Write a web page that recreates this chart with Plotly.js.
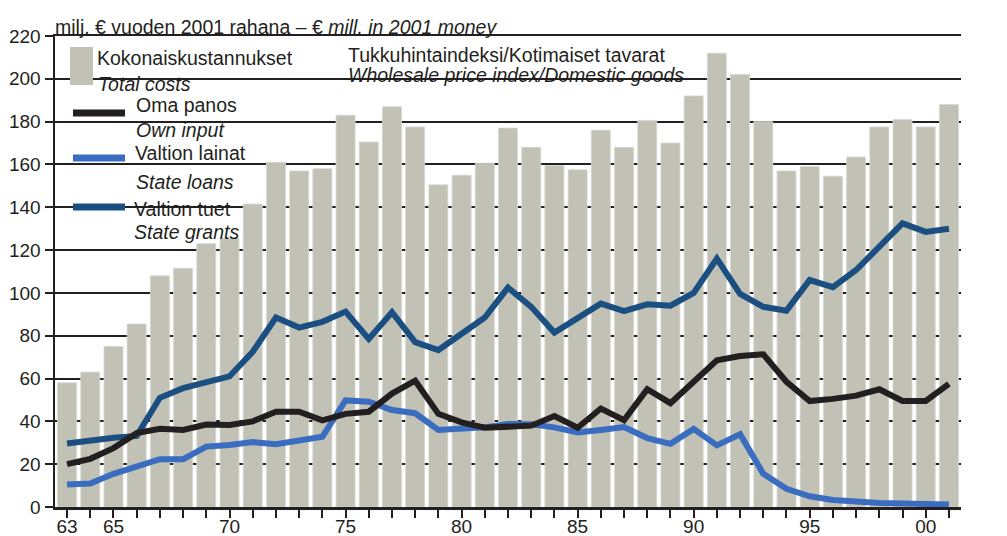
<!DOCTYPE html>
<html>
<head>
<meta charset="utf-8">
<script src="https://cdn.plot.ly/plotly-3.0.1.min.js"></script>
<style>html,body{margin:0;padding:0;background:#fff;}#chart{width:1007px;height:536px;}</style>
</head>
<body>
<div id="chart"></div>
<script>
// ---- data ----
const years = [1963,1964,1965,1966,1967,1968,1969,1970,1971,1972,1973,1974,1975,1976,1977,1978,1979,1980,1981,1982,1983,1984,1985,1986,1987,1988,1989,1990,1991,1992,1993,1994,1995,1996,1997,1998,1999,2000,2001];
const totalCosts = [58,63,75,85.5,108,111.5,123,125.5,141.5,161,157,158,183,170.5,187,177.5,150.5,155,160.5,177,168,159.5,157.5,176,168,180.5,170,192,212,202,180,157,159,154.5,163.5,177.5,181,177.5,188];
const ownInput = [20,22.5,27.5,34.5,36.5,36,38.5,38.3,40,44.5,44.5,40.5,43.5,44.5,53,59,43.5,39.5,37,37.5,38,42.5,37,46,40.5,55,48.5,58.5,68.5,70.5,71.3,58.5,49.5,50.5,52,55,49.5,49.5,57.5];
const stateLoans = [10.5,11,15.5,18.8,22.3,22.3,28.2,29,30.3,29.3,31,32.8,49.8,49.2,45.3,43.8,36,36.3,37.2,38.8,38.6,37.2,34.8,36,37.3,32.2,29.5,36.5,28.8,34,15.5,8.5,5,3.3,2.4,1.9,1.6,1.4,1.2];
const stateGrants = [29.7,31.2,32.3,33.2,51,55.5,58,61,72.5,88.5,83.8,86.5,91.3,78.5,91,77,73.3,81,88.5,102.5,93.5,81.5,88,95,91.5,94.7,94,100,116,99.5,93.5,91.7,106,102.7,110.7,122,132.5,128.5,130];
const labelYears = [1963,1965,1970,1975,1980,1985,1990,1995,2000];
const labelTexts = ['63','65','70','75','80','85','90','95','00'];
const yTicks = [0,20,40,60,80,100,120,140,160,180,200,220];

// ---- style ----
const FONT = '"Liberation Sans", Arial, sans-serif';
const INK = '#231f20';
const BAR = '#c1c1b5';
const LIGHT = '#3a6cbf';
const DARK = '#1b4f82';
const TXT = 19.5, TICK = 19;
const W = 1007, H = 536, L = 55, R = 961, T = 36, B = 507;
const px = v => (v - L) / (R - L);
const py = v => (B - v) / (B - T);

const ticktext = years.map(y => { const i = labelYears.indexOf(y); return i >= 0 ? labelTexts[i] : ''; });

const traces = [
  {type:'bar', x:years, y:totalCosts, width:0.82, marker:{color:BAR, line:{color:'#d8d8d0', width:0.8}}, hoverinfo:'skip', showlegend:false},
  {type:'scatter', mode:'lines', x:years, y:stateLoans, line:{color:LIGHT, width:6}, hoverinfo:'skip', showlegend:false},
  {type:'scatter', mode:'lines', x:years, y:stateGrants, line:{color:DARK, width:6}, hoverinfo:'skip', showlegend:false},
  {type:'scatter', mode:'lines', x:years, y:ownInput, line:{color:INK, width:6}, hoverinfo:'skip', showlegend:false}
];

function ann(text, x, baseline) {
  return {text:text, xref:'paper', yref:'paper', x:px(x), y:py(baseline - 6.5), xanchor:'left', yanchor:'middle', showarrow:false, font:{family:FONT, size:TXT, color:INK}, borderpad:0};
}

const annotations = [
  ann('Kokonaiskustannukset', 96, 64),
  ann('<i>Total costs</i>', 97, 90),
  ann('Oma panos', 135, 112),
  ann('<i>Own input</i>', 135, 136),
  ann('Valtion lainat', 134, 160),
  ann('<i>State loans</i>', 135, 188),
  ann('Valtion tuet', 133, 215),
  ann('<i>State grants</i>', 133, 238),
  ann('Tukkuhintaindeksi/Kotimaiset tavarat', 347, 61),
  ann('<i>Wholesale price index/Domestic goods</i>', 347, 81)
];

const shapes = [
  // white areas behind legend/text (above gridlines, below data)
  {type:'rect', layer:'between', xref:'paper', yref:'y', x0:0.002, x1:px(262), y0:150, y1:219, fillcolor:'#fff', line:{width:0}},
  {type:'rect', layer:'between', xref:'paper', yref:'y', x0:0.002, x1:px(697), y0:190, y1:219, fillcolor:'#fff', line:{width:0}},
  // legend samples
  {type:'rect', xref:'paper', yref:'paper', x0:px(70), x1:px(93), y0:py(85), y1:py(47), fillcolor:BAR, line:{width:0}},
  {type:'line', xref:'paper', yref:'paper', x0:px(73), x1:px(125), y0:py(113), y1:py(113), line:{color:INK, width:7}},
  {type:'line', xref:'paper', yref:'paper', x0:px(73), x1:px(125), y0:py(158), y1:py(158), line:{color:LIGHT, width:7}},
  {type:'line', xref:'paper', yref:'paper', x0:px(73), x1:px(125), y0:py(207), y1:py(207), line:{color:DARK, width:7}}
];

const yCommon = {range:[0,220], tickvals:yTicks, ticks:'outside', ticklen:8, tickwidth:2, tickcolor:INK,
  showline:true, linecolor:INK, linewidth:2.5, zeroline:false, fixedrange:true,
  tickfont:{family:FONT, size:TICK, color:INK}};

const layout = {
  width:W, height:H,
  margin:{l:L, r:W-R, t:T, b:H-B, pad:0},
  paper_bgcolor:'#fff', plot_bgcolor:'#fff',
  font:{family:FONT, size:TXT, color:INK},
  title:{text:'milj. € vuoden 2001 rahana – € <i>mill. in 2001 money</i>', xref:'container', yref:'container',
    x:55/W, xanchor:'left', y:1-27.5/H, yanchor:'middle', font:{family:FONT, size:TXT, color:INK}},
  bargap:0,
  xaxis:{range:[1962.48,2001.52], tickvals:years, ticktext:ticktext, ticks:'outside', ticklen:8, tickwidth:2, tickcolor:INK,
    ticklabelstandoff:-7,
    showline:true, mirror:true, linecolor:INK, linewidth:2.5, showgrid:false, zeroline:false, fixedrange:true,
    tickfont:{family:FONT, size:TICK, color:INK}},
  yaxis:Object.assign({}, yCommon, {showgrid:true, gridcolor:INK, gridwidth:2}),
  yaxis2:Object.assign({}, yCommon, {overlaying:'y', side:'right', showgrid:false}),
  shapes:shapes,
  annotations:annotations,
  showlegend:false
};

Plotly.newPlot('chart', traces, layout, {staticPlot:true, displayModeBar:false});
</script>
</body>
</html>
